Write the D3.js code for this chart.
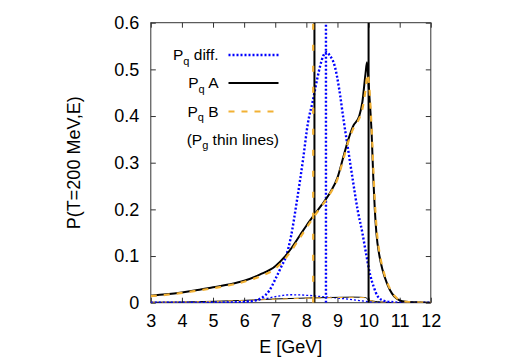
<!DOCTYPE html>
<html>
<head>
<meta charset="utf-8">
<script src="https://cdn.jsdelivr.net/npm/d3@7"></script>
<style>
  body { margin: 0; background: #fff; }
  svg { display: block; font-family: "Liberation Sans", Arial, Helvetica, sans-serif; }
</style>
</head>
<body>
<div id="chart"></div>
<script>
// quark curves (thick), [E in GeV, P]
const pqDiff = [[3,0],[4,0],[5,0],[5.8,0.001],[6.3,0.004],[6.6,0.012],[6.8,0.025],[7.0,0.05],[7.2,0.078],
  [7.35,0.10],[7.5,0.14],[7.7,0.22],[7.9,0.31],[8.05,0.385],[8.2,0.43],[8.35,0.48],[8.45,0.509],[8.55,0.53],
  [8.65,0.537],[8.75,0.53],[8.92,0.505],[9.05,0.46],[9.2,0.39],[9.35,0.325],[9.5,0.26],[9.65,0.198],
  [9.8,0.15],[9.92,0.105],[10.05,0.06],[10.16,0.035],[10.3,0.013],[10.5,0.004],[10.8,0.001],[11,0],[12,0]];

const pqA = [[3,0.015],[3.5,0.018],[4,0.022],[4.5,0.027],[5,0.033],[5.5,0.039],[6,0.047],[6.5,0.06],
  [7,0.078],[7.3,0.098],[7.5,0.115],[7.8,0.145],[8,0.165],[8.25,0.188],[8.5,0.21],[8.63,0.222],[8.8,0.24],
  [9,0.268],[9.2,0.315],[9.35,0.35],[9.5,0.378],[9.7,0.40],[9.8,0.43],[9.9,0.49],[9.95,0.515],[10,0.47],
  [10.05,0.42],[10.1,0.36],[10.15,0.27],[10.2,0.2],[10.25,0.15],[10.35,0.10],[10.45,0.07],[10.6,0.04],
  [10.75,0.02],[10.9,0.009],[11,0.005],[11.2,0.002],[11.5,0.001],[12,0]];

const pqB = [[3,0.014],[3.5,0.017],[4,0.021],[4.5,0.026],[5,0.031],[5.5,0.037],[6,0.045],[6.5,0.056],
  [7,0.073],[7.3,0.093],[7.5,0.11],[7.8,0.14],[8,0.16],[8.25,0.185],[8.5,0.208],[8.63,0.22],[8.8,0.238],
  [9,0.265],[9.2,0.31],[9.35,0.345],[9.5,0.372],[9.7,0.395],[9.8,0.415],[9.9,0.455],[9.97,0.49],[10.02,0.465],
  [10.07,0.41],[10.12,0.34],[10.17,0.26],[10.22,0.195],[10.27,0.15],[10.37,0.10],[10.47,0.07],[10.62,0.04],
  [10.77,0.02],[10.92,0.009],[11,0.005],[11.2,0.002],[11.5,0.001],[12,0]];

// gluon curves (thin lines)
const pgDiff = [[3,0],[5,0.0005],[6,0.002],[6.5,0.006],[7,0.013],[7.5,0.017],[8,0.016],[8.5,0.013],
  [9,0.01],[9.5,0.0065],[10,0.002],[10.5,0.0005],[11,0],[12,0]];
const pgA = [[3,0.001],[4,0.0015],[5,0.003],[6,0.005],[7,0.008],[8,0.01],[9,0.0115],[9.5,0.012],
  [9.9,0.011],[10,0.006],[10.3,0.002],[10.7,0.0005],[11,0],[12,0]];
const pgB = [[3,0.001],[4,0.0014],[5,0.0028],[6,0.0047],[7,0.0075],[8,0.0095],[9,0.011],[9.5,0.0115],
  [9.95,0.0105],[10.05,0.005],[10.3,0.002],[10.7,0.0005],[11,0],[12,0]];

// delta spikes (vertical lines), E positions
const spikesDiff = [8.63];
const spikesA = [8.26, 10.0];
const spikesB = [8.22];

const xTicks = [3, 4, 5, 6, 7, 8, 9, 10, 11, 12];
const yTicks = [0, 0.1, 0.2, 0.3, 0.4, 0.5, 0.6];

const width = 518, height = 363;
const margin = { top: 22.7, right: 87.2, bottom: 60.3, left: 150.8 };
const iw = width - margin.left - margin.right;
const ih = height - margin.top - margin.bottom;
const fontSize = 18;
const keySize = 15.5;

const svg = d3.select('#chart').append('svg')
  .attr('width', width)
  .attr('height', height);

const x = d3.scaleLinear().domain([3, 12]).range([0, iw]);
const y = d3.scaleLinear().domain([0, 0.6]).range([ih, 0]);

svg.append('defs').append('clipPath').attr('id', 'clip')
  .append('rect').attr('width', iw).attr('height', ih);

const g = svg.append('g').attr('transform', `translate(${margin.left},${margin.top})`);

// axes with inward ticks on all sides
const fmt = d => d === 0 ? '0' : d3.format('.1f')(d);
const axBottom = g.append('g').attr('transform', `translate(0,${ih})`)
  .call(d3.axisBottom(x).tickValues(xTicks).tickSize(-5).tickPadding(12).tickFormat(d3.format('d')));
const axTop = g.append('g')
  .call(d3.axisTop(x).tickValues(xTicks).tickSize(-5).tickFormat(''));
const axLeft = g.append('g')
  .call(d3.axisLeft(y).tickValues(yTicks).tickSize(-5).tickPadding(11.5).tickFormat(fmt));
const axRight = g.append('g').attr('transform', `translate(${iw},0)`)
  .call(d3.axisRight(y).tickValues(yTicks).tickSize(-5).tickFormat(''));

[axBottom, axTop, axLeft, axRight].forEach(a => {
  a.select('.domain').remove();
  a.selectAll('.tick line').attr('stroke', '#333');
  a.selectAll('text').attr('font-size', fontSize).attr('fill', '#000')
    .attr('font-family', '"Liberation Sans", Arial, sans-serif');
});

g.append('rect').attr('width', iw).attr('height', ih)
  .attr('fill', 'none').attr('stroke', '#333').attr('stroke-width', 1);

const line = d3.line().x(d => x(d[0])).y(d => y(d[1])).curve(d3.curveMonotoneX);
const plot = g.append('g').attr('clip-path', 'url(#clip)');

const blue = '#0000ff', black = '#000', orange = '#f2b134';

function curve(data, color, w, dash) {
  plot.append('path').datum(data)
    .attr('d', line)
    .attr('fill', 'none')
    .attr('stroke', color)
    .attr('stroke-width', w)
    .attr('stroke-dasharray', dash);
}

function spikes(list, color, w, dash) {
  plot.selectAll(null).data(list).enter().append('line')
    .attr('x1', d => x(d)).attr('x2', d => x(d))
    .attr('y1', y(0)).attr('y2', y(0.6))
    .attr('stroke', color)
    .attr('stroke-width', w)
    .attr('stroke-dasharray', dash);
}

// thin gluon lines
curve(pgDiff, blue, 1.3, '2,2');
curve(pgA, black, 1, null);
curve(pgB, orange, 1, '5,6');

// thick quark lines
curve(pqDiff, blue, 2.4, '2,2');
spikes(spikesDiff, blue, 2.4, '2,2');
curve(pqA, black, 2, null);
spikes(spikesA, black, 2, null);
curve(pqB, orange, 2.2, '6,7');
spikes(spikesB, orange, 2.2, '6,15');

// legend
const legend = [
  { name: ' diff.', color: blue, dash: '2,2', y: 60 },
  { name: ' A', color: black, dash: null, y: 88 },
  { name: ' B', color: orange, dash: '6,7', y: 116.5 }
];
legend.forEach(l => {
  const t = svg.append('text')
    .attr('x', 218.5).attr('y', l.y)
    .attr('text-anchor', 'end')
    .attr('font-size', keySize);
  t.append('tspan').text('P');
  t.append('tspan').attr('font-size', 11).attr('dy', 4.5).text('q');
  t.append('tspan').attr('dy', -4.5).text(l.name);
  svg.append('line')
    .attr('x1', 228.5).attr('x2', 278.5)
    .attr('y1', l.y - 5).attr('y2', l.y - 5)
    .attr('stroke', l.color)
    .attr('stroke-width', l.color === blue ? 2.4 : 2)
    .attr('stroke-dasharray', l.dash);
});
const note = svg.append('text').attr('x', 186.7).attr('y', 144.5).attr('font-size', keySize);
note.append('tspan').text('(P');
note.append('tspan').attr('font-size', 11).attr('dy', 4.5).text('g');
note.append('tspan').attr('dy', -4.5).text(' thin lines)');

// axis titles
svg.append('text')
  .attr('x', margin.left + x(7.5)).attr('y', 353)
  .attr('text-anchor', 'middle').attr('font-size', fontSize)
  .text('E [GeV]');
svg.append('text')
  .attr('transform', `translate(79.5,${margin.top + y(0.3)}) rotate(-90)`)
  .attr('text-anchor', 'middle').attr('font-size', fontSize)
  .text('P(T=200 MeV,E)');
</script>
</body>
</html>
